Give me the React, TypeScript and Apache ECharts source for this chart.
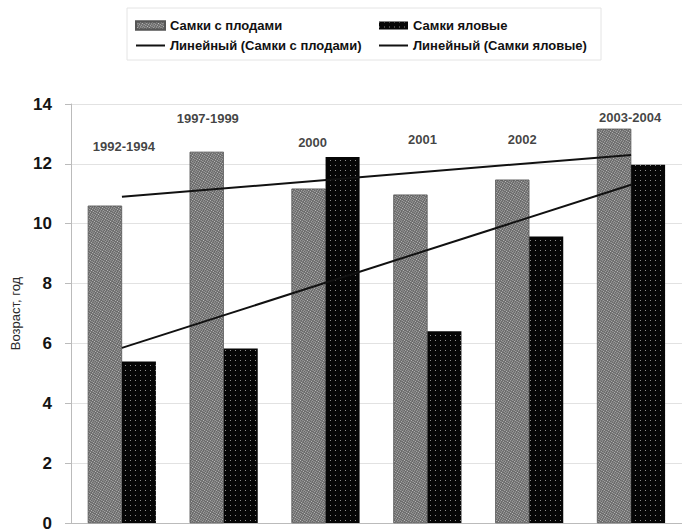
import React, { useEffect, useRef } from "react";
import * as echarts from "echarts";

const categories = ["1992-1994", "1997-1999", "2000", "2001", "2002", "2003-2004"];
const fruitValues = [10.6, 12.4, 11.17, 10.97, 11.47, 13.17];
const barrenValues = [5.4, 5.83, 12.23, 6.41, 9.57, 11.97];
const fruitTrend = [10.9, 12.3];
const barrenTrend = [5.85, 11.3];
const labelHeights = [12.57, 13.53, 12.7, 12.83, 12.83, 13.55];
const labelShifts = [2, -16, -13, -5, -7, -1];
const yTicks = { min: 0, max: 14, interval: 2 };

const FONT = "'Liberation Sans', Arial, sans-serif";

export default function App() {
  const ref = useRef<HTMLDivElement>(null);
  useEffect(() => {
    if (!ref.current) return;
    const chart = echarts.init(ref.current, undefined, { renderer: "svg" });
    const legendText = { fontFamily: FONT, fontWeight: "bold", fontSize: 13, color: "#111" };
    const last = categories.length - 1;
    const hideSymbol = { itemStyle: { opacity: 0 } };
    chart.setOption({
      animation: false,
      aria: { enabled: true, decal: { show: true } },
      textStyle: { fontFamily: FONT },
      graphic: [
        {
          type: "rect",
          shape: { x: 127, y: 8, width: 474, height: 52 },
          style: { fill: "none", stroke: "#e4e4e4", lineWidth: 1 },
          silent: true,
        },
      ],
      legend: [
        {
          orient: "vertical",
          left: 130,
          top: 14,
          itemGap: 7,
          itemWidth: 29,
          itemHeight: 8,
          data: [
            { name: "Самки с плодами", icon: "rect" },
            { name: "Линейный (Самки с плодами)", ...hideSymbol },
          ],
          textStyle: legendText,
        },
        {
          orient: "vertical",
          left: 373,
          top: 14,
          itemGap: 7,
          itemWidth: 29,
          itemHeight: 8,
          data: [
            { name: "Самки яловые", icon: "rect" },
            { name: "Линейный (Самки яловые)", ...hideSymbol },
          ],
          textStyle: legendText,
        },
      ],
      grid: { left: 71, right: -3, top: 104, bottom: 9, containLabel: false },
      xAxis: {
        type: "category",
        data: categories,
        axisLine: { show: true, lineStyle: { color: "#bbbbbb" } },
        axisTick: { show: false },
        axisLabel: { show: false },
      },
      yAxis: {
        type: "value",
        min: yTicks.min,
        max: yTicks.max,
        interval: yTicks.interval,
        name: "Возраст, год",
        nameLocation: "middle",
        nameGap: 47,
        nameRotate: 90,
        nameTextStyle: { fontFamily: FONT, fontSize: 13, color: "#2a2a2a" },
        axisLine: { show: true, lineStyle: { color: "#bbbbbb" } },
        axisTick: { show: true, length: 6, lineStyle: { color: "#bbbbbb" } },
        axisLabel: { fontFamily: FONT, fontWeight: "bold", fontSize: 17, color: "#141414", margin: 19 },
        splitLine: { show: true, lineStyle: { color: "#e2e2e2" } },
      },
      series: [
        {
          name: "Самки с плодами",
          type: "bar",
          data: fruitValues,
          barWidth: 34,
          barGap: "0%",
          itemStyle: {
            color: "#676767",
            borderColor: "#555",
            borderWidth: 0.5,
            decal: {
              symbol: "rect",
              symbolSize: 1,
              dashArrayX: [1, 1],
              dashArrayY: [1, 1],
              color: "#c4c4c4",
            },
          },
        },
        {
          name: "Самки яловые",
          type: "bar",
          data: barrenValues,
          barWidth: 34,
          barGap: "0%",
          itemStyle: {
            color: "#060606",
            decal: {
              symbol: "rect",
              symbolSize: 1,
              dashArrayX: [1, 4],
              dashArrayY: [1, 4],
              color: "#8a8a8a",
            },
          },
        },
        {
          name: "Линейный (Самки с плодами)",
          type: "line",
          data: [
            [0, fruitTrend[0]],
            [last, fruitTrend[1]],
          ],
          symbol: "none",
          itemStyle: { color: "#111" },
          lineStyle: { color: "#111", width: 2 },
          z: 5,
        },
        {
          name: "Линейный (Самки яловые)",
          type: "line",
          data: [
            [0, barrenTrend[0]],
            [last, barrenTrend[1]],
          ],
          symbol: "none",
          itemStyle: { color: "#111" },
          lineStyle: { color: "#111", width: 2 },
          z: 5,
        },
        {
          name: "labels",
          type: "scatter",
          symbolSize: 0,
          silent: true,
          data: categories.map((c, i) => ({
            value: [i, labelHeights[i]],
            label: {
              show: true,
              position: "inside",
              offset: [labelShifts[i], 0],
              formatter: c,
              fontFamily: FONT,
              fontWeight: "bold",
              fontSize: 13,
              color: "#111",
            },
          })),
          z: 6,
        },
      ],
    });
    return () => chart.dispose();
  }, []);
  return (
    <div
      ref={ref}
      style={{ position: "fixed", left: 0, top: 0, width: 682, height: 532, background: "#fff" }}
    />
  );
}
